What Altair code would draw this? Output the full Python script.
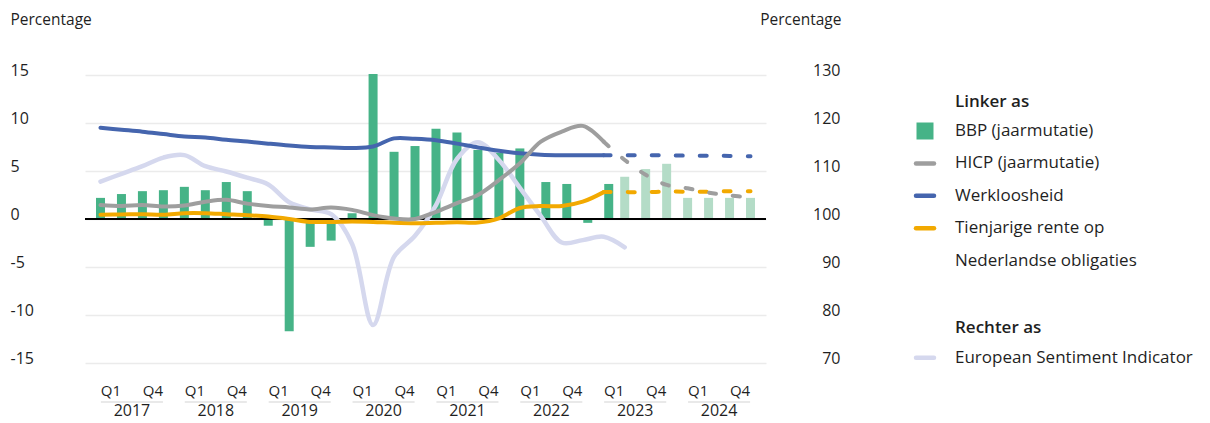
import altair as alt
import pandas as pd

# ---------------- data ----------------
jaren = [2017, 2018, 2019, 2020, 2021, 2022, 2023, 2024]
kwartalen = ["Q1", "Q2", "Q3", "Q4"]
perioden = [f"{j}{q}" for j in jaren for q in kwartalen]
as_kwartalen = ["Q1", "Q4"]

bbp = [2.2, 2.6, 2.9, 3.0, 3.35, 3.0, 3.85, 2.9, -0.7, -11.7, -2.9, -2.25, 0.6, 15.1,
       7.0, 7.6, 9.4, 9.0, 7.2, 6.9, 7.35, 3.85, 3.65, -0.4, 3.65,
       4.4, 5.2, 5.75, 2.2, 2.2, 2.2, 2.2]
bbp_reeks = ["Realisatie"] * 21 + ["Realisatie recent"] * 4 + ["Raming"] * 7

hicp = [1.45, 1.35, 1.45, 1.3, 1.4, 1.8, 2.0, 1.6, 1.35, 1.2, 1.0, 1.2, 0.95, 0.4,
        0.05, 0.0, 0.75, 1.65, 2.5, 4.05, 5.8, 8.05, 9.1, 9.7, 8.05,
        6.15, 4.6, 3.55, 3.2, 2.75, 2.45, 2.25]
werkloosheid = [9.5, 9.3, 9.1, 8.85, 8.6, 8.5, 8.25, 8.07, 7.85, 7.65, 7.5, 7.45, 7.4, 7.55,
                8.4, 8.35, 8.2, 7.85, 7.45, 7.1, 6.85, 6.7, 6.65, 6.65, 6.65,
                6.65, 6.65, 6.62, 6.6, 6.6, 6.57, 6.53]
rente = [0.45, 0.47, 0.5, 0.45, 0.6, 0.6, 0.5, 0.4, 0.25, 0.0, -0.3, -0.3, -0.25, -0.3,
         -0.4, -0.45, -0.4, -0.35, -0.37, 0.07, 1.15, 1.35, 1.35, 1.8, 2.8,
         2.8, 2.8, 2.85, 2.85, 2.85, 2.9, 2.9]
esi = [107.8, 109.4, 111.0, 112.8, 113.3, 111.0, 109.9, 108.6, 107.2, 103.5, 102.0, 101.0,
       94.8, 77.9, 92.1, 96.5, 102.9, 112.5, 116.0, 112.3, 106.5, 100.6, 95.1, 95.6,
       96.3, 94.1]
laatste_realisatie = 24  # index of 2023Q1

legenda_labels = ["Linker as", "BBP (jaarmutatie)", "HICP (jaarmutatie)", "Werkloosheid",
                  "Tienjarige rente op", "Nederlandse obligaties", "", "Rechter as",
                  "European Sentiment Indicator"]
legenda_soort = ["kop", "vlak", "lijn", "lijn", "lijn", "tekst", "leeg", "kop", "lijn"]
legenda_serie = ["", "BBP (jaarmutatie)", "HICP (jaarmutatie)", "Werkloosheid",
                 "Tienjarige rente", "", "", "", "European Sentiment Indicator"]

serie_namen = ["BBP (jaarmutatie)", "BBP raming", "HICP (jaarmutatie)", "Werkloosheid",
               "Tienjarige rente", "European Sentiment Indicator"]
kleuren = ["#46B387", "#B4DCC7", "#9E9E9E", "#4565AE", "#F2A900", "#D5D8EE"]
KLEUR = dict(zip(serie_namen, kleuren))

# ---------------- frames ----------------
df = pd.DataFrame({
    "periode": perioden,
    "idx": list(range(len(perioden))),
    "bbp": bbp,
    "reeks": bbp_reeks,
    "hicp": hicp,
    "werkloosheid": werkloosheid,
    "rente": rente,
})
df["serie"] = ["BBP raming" if r == "Raming" else "BBP (jaarmutatie)" for r in bbp_reeks]
esi_df = pd.DataFrame({"idx": list(range(len(esi))), "esi": esi})
as_df = pd.DataFrame([(j, q) for j in jaren for q in as_kwartalen], columns=["jaar", "kw"])
jaar_df = pd.DataFrame({"jaar": jaren})
leg_df = pd.DataFrame({"label": legenda_labels, "soort": legenda_soort,
                       "serie": legenda_serie, "rij": list(range(len(legenda_labels)))})

FONT = "Open Sans"
TXT = "#1f1f1f"

x_scale = alt.Scale(domain=[-0.5, 31.5], nice=False, zero=False)
X = alt.X("idx:Q", scale=x_scale, axis=None)
yL_scale = alt.Scale(domain=[-15, 15], nice=False, zero=False)
yR_scale = alt.Scale(domain=[70, 130], nice=False, zero=False)
kleur_schaal = alt.Scale(domain=serie_namen, range=kleuren)

axisL = alt.Axis(values=[-15, -10, -5, 0, 5, 10, 15], title="Percentage", titleAngle=0,
                 titleAlign="left", titleX=-75, titleY=-56, titleBaseline="middle",
                 titleFontSize=15.5, titleFontWeight=500, titleColor=TXT, titleFont=FONT,
                 labelAlign="left", labelPadding=75, labelOffset=-5, labelBaseline="middle",
                 labelFontSize=16, labelColor=TXT, labelFont=FONT,
                 labelExpr="'' + datum.value",
                 ticks=False, tickSize=0, domain=False, grid=True,
                 gridColor="#EBEBEB", gridWidth=1.5)
axisR = alt.Axis(orient="right", values=[70, 80, 90, 100, 110, 120, 130], title="Percentage",
                 titleAngle=0, titleAlign="right", titleX=75, titleY=-56,
                 titleBaseline="middle", titleFontSize=15.5, titleFontWeight=500,
                 titleColor=TXT, titleFont=FONT,
                 labelAlign="right", labelPadding=74, labelOffset=-5, labelBaseline="middle",
                 labelFontSize=16, labelColor=TXT, labelFont=FONT,
                 ticks=False, tickSize=0, domain=False, grid=False)

base = alt.Chart(df)

# bars
bars_main = base.transform_filter("datum.reeks != 'Realisatie recent'").mark_bar(size=9).encode(
    x=X, y=alt.Y("bbp:Q", scale=yL_scale, axis=axisL),
    color=alt.Color("serie:N", scale=kleur_schaal, legend=None))
bars_recent = base.transform_filter("datum.reeks == 'Realisatie recent'").mark_bar(
    size=9, xOffset=5).encode(
    x=X, y=alt.Y("bbp:Q", scale=yL_scale, axis=axisL),
    color=alt.Color("serie:N", scale=kleur_schaal, legend=None))
nul = alt.Chart(pd.DataFrame({"bbp": [0]})).mark_rule(color="black", strokeWidth=2).encode(
    y=alt.Y("bbp:Q", scale=yL_scale, axis=axisL))

# x-axis labels (multi-level)
kw_txt = alt.Chart(as_df).transform_calculate(
    pos="(datum.jaar - 2017) * 4 + (datum.kw == 'Q1' ? 0.5 : 2.5)"
).mark_text(fontSize=15, font=FONT, color=TXT, baseline="middle").encode(
    x=alt.X("pos:Q", scale=x_scale, axis=None), y=alt.value(316), text="kw:N")
jaar_txt = alt.Chart(jaar_df).transform_calculate(
    pos="(datum.jaar - 2017) * 4 + 1.5"
).mark_text(fontSize=16, font=FONT, color=TXT, baseline="middle").encode(
    x=alt.X("pos:Q", scale=x_scale, axis=None), y=alt.value(336), text="jaar:N")
jaar_lijn = alt.Chart(jaar_df).transform_calculate(
    a="(datum.jaar - 2017) * 4 + 0.02", b="(datum.jaar - 2017) * 4 + 2.98"
).mark_rule(color="#E2E2E2", strokeWidth=1.5).encode(
    x=alt.X("a:Q", scale=x_scale, axis=None), x2="b:Q", y=alt.value(327))

links1 = alt.layer(bars_main, bars_recent, nul, kw_txt, jaar_txt, jaar_lijn)

# right axis: ESI
esi_line = alt.Chart(esi_df).mark_line(
    color=KLEUR["European Sentiment Indicator"], strokeWidth=4.5,
    interpolate="catmull-rom", strokeCap="round").encode(
    x=X, y=alt.Y("esi:Q", scale=yR_scale, axis=axisR))


def lijn(veld, kleur):
    solid = base.transform_filter(f"datum.idx <= {laatste_realisatie}").mark_line(
        color=kleur, strokeWidth=4, interpolate="catmull-rom", strokeCap="round").encode(
        x=X, y=alt.Y(f"{veld}:Q", scale=yL_scale, axis=None))
    dashed = base.transform_filter(f"datum.idx >= {laatste_realisatie}").mark_line(
        color=kleur, strokeWidth=4, interpolate="catmull-rom", strokeCap="round",
        strokeDash=[7, 17]).encode(
        x=X, y=alt.Y(f"{veld}:Q", scale=yL_scale, axis=None))
    return [solid, dashed]


lijnen = (lijn("werkloosheid", KLEUR["Werkloosheid"]) +
          lijn("rente", KLEUR["Tienjarige rente"]) +
          lijn("hicp", KLEUR["HICP (jaarmutatie)"]))

# legend
leg_pos = "98.6 + datum.rij * 32.4 - 75"
leg_kop = alt.Chart(leg_df).transform_filter("datum.soort == 'kop'").transform_calculate(
    px="870", py=leg_pos).mark_text(
    align="left", baseline="middle", fontSize=17, font=FONT, fontWeight=600,
    color=TXT, dy=3).encode(
    x=alt.X("px:Q", scale=None, axis=None), y=alt.Y("py:Q", scale=None, axis=None),
    text="label:N")
leg_txt = alt.Chart(leg_df).transform_filter(
    "datum.soort != 'kop' && datum.soort != 'leeg'").transform_calculate(
    px="870", py=leg_pos).mark_text(
    align="left", baseline="middle", fontSize=17, font=FONT, color=TXT).encode(
    x=alt.X("px:Q", scale=None, axis=None), y=alt.Y("py:Q", scale=None, axis=None),
    text="label:N")
leg_vlak = alt.Chart(leg_df).transform_filter("datum.soort == 'vlak'").transform_calculate(
    px="840", py=leg_pos).mark_square(size=289, opacity=1).encode(
    x=alt.X("px:Q", scale=None, axis=None), y=alt.Y("py:Q", scale=None, axis=None),
    color=alt.Color("serie:N", scale=kleur_schaal, legend=None))
leg_lijn = alt.Chart(leg_df).transform_filter("datum.soort == 'lijn'").transform_calculate(
    px="831", px2="849", py=leg_pos).mark_rule(strokeWidth=4.5, strokeCap="round").encode(
    x=alt.X("px:Q", scale=None, axis=None), x2="px2:Q",
    y=alt.Y("py:Q", scale=None, axis=None),
    color=alt.Color("serie:N", scale=kleur_schaal, legend=None))

links2 = alt.layer(*lijnen, leg_kop, leg_txt, leg_vlak, leg_lijn)

chart = alt.layer(links1, esi_line, links2).resolve_scale(y="independent").properties(
    width=681, height=288,
    autosize=alt.AutoSizeParams(type="none"),
    padding={"left": 85, "top": 75, "right": 444, "bottom": 60},
).configure(font=FONT).configure_view(stroke=None)

chart.save("out.html", embed_options={"renderer": "svg", "actions": False})
